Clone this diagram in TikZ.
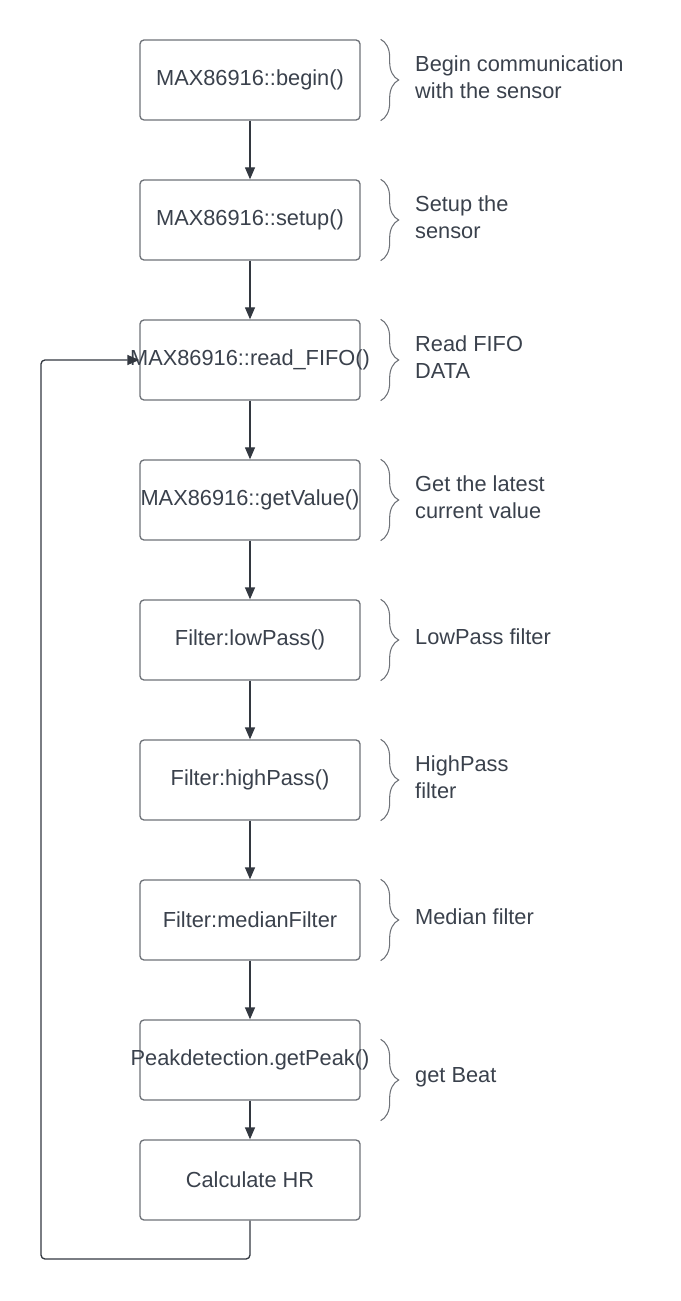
\documentclass[tikz,border=0pt]{standalone}
\usepackage{fontspec}
\setmainfont{Liberation Sans}
\usepackage{tikz}
\usepackage{xcolor}
\usetikzlibrary{arrows.meta, positioning, calc, decorations.pathreplacing}
\definecolor{textgray}{RGB}{58, 65, 76}
\definecolor{edgegray}{RGB}{51, 56, 64}
\definecolor{boxgray}{RGB}{110, 114, 120}

\begin{document}
\begin{tikzpicture}[
    process/.style={rectangle, draw=boxgray, line width=0.75pt, fill=white, rounded corners=0.08cm, minimum width=4.4cm, minimum height=1.6cm, align=center, text=textgray, font=\fontsize{12.4}{15.3}\selectfont},
    note/.style={anchor=west, align=left, text=textgray, font=\fontsize{12.4}{15.3}\selectfont},
    arrow/.style={-{Triangle[length=0.24cm, width=0.2cm]}, line width=0.75pt, draw=edgegray},
    brace/.style={decorate, decoration={brace, amplitude=0.36cm, aspect=0.5}, draw=boxgray, line width=0.6pt}
]
\useasboundingbox (0,0) rectangle (13.6,-26.02);

\node[process] (begin) at (5,-1.6) {MAX86916::begin()};
\node[process] (setup) at (5,-4.4) {MAX86916::setup()};
\node[process] (readfifo) at (5,-7.2) {\makebox[0pt]{MAX86916::read\_FIFO()}};
\node[process] (getvalue) at (5,-10.0) {\makebox[0pt]{MAX86916::getValue()}};
\node[process] (lowpass) at (5,-12.8) {Filter:lowPass()};
\node[process] (highpass) at (5,-15.6) {Filter:highPass()};
\node[process] (median) at (5,-18.4) {Filter:medianFilter};
\node[process] (peak) at (5,-21.2) {\makebox[0pt]{Peakdetection.getPeak()}};
\node[process] (calchr) at (5,-23.6) {Calculate HR};

% braces with notes
\draw[brace] ([xshift=0.4cm]begin.north east) -- ([xshift=0.4cm]begin.south east);
\draw[brace] ([xshift=0.4cm]setup.north east) -- ([xshift=0.4cm]setup.south east);
\draw[brace] ([xshift=0.4cm]readfifo.north east) -- ([xshift=0.4cm]readfifo.south east);
\draw[brace] ([xshift=0.4cm]getvalue.north east) -- ([xshift=0.4cm]getvalue.south east);
\draw[brace] ([xshift=0.4cm]lowpass.north east) -- ([xshift=0.4cm]lowpass.south east);
\draw[brace] ([xshift=0.4cm]highpass.north east) -- ([xshift=0.4cm]highpass.south east);
\draw[brace] ([xshift=0.4cm]median.north east) -- ([xshift=0.4cm]median.south east);
\draw[brace] ([xshift=0.4cm,yshift=-0.4cm]peak.north east) -- ([xshift=0.4cm,yshift=-0.4cm]peak.south east);

\node[note] (notebegin) at (8.18,-1.54) {Begin communication\\with the sensor};
\node[note] (notesetup) at (8.18,-4.34) {Setup the\\sensor};
\node[note] (notefifo) at (8.18,-7.14) {Read FIFO\\DATA};
\node[note] (notevalue) at (8.18,-9.94) {Get the latest\\current value};
\node[note] (notelow) at (8.18,-12.74) {LowPass filter};
\node[note] (notehigh) at (8.18,-15.54) {HighPass\\filter};
\node[note] (notemedian) at (8.18,-18.34) {Median filter};
\node[note] (notepeak) at (8.18,-21.54) {get Beat};

\draw[arrow] (begin) -- (setup);
\draw[arrow] (setup) -- (readfifo);
\draw[arrow] (readfifo) -- (getvalue);
\draw[arrow] (getvalue) -- (lowpass);
\draw[arrow] (lowpass) -- (highpass);
\draw[arrow] (highpass) -- (median);
\draw[arrow] (median) -- (peak);
\draw[arrow] (peak) -- (calchr);

% loop back
\coordinate (loopcorner) at (0.82,-25.18);
\draw[arrow, rounded corners=0.08cm] (calchr.south) |- (loopcorner) |- (readfifo.west);

\end{tikzpicture}
\end{document}
